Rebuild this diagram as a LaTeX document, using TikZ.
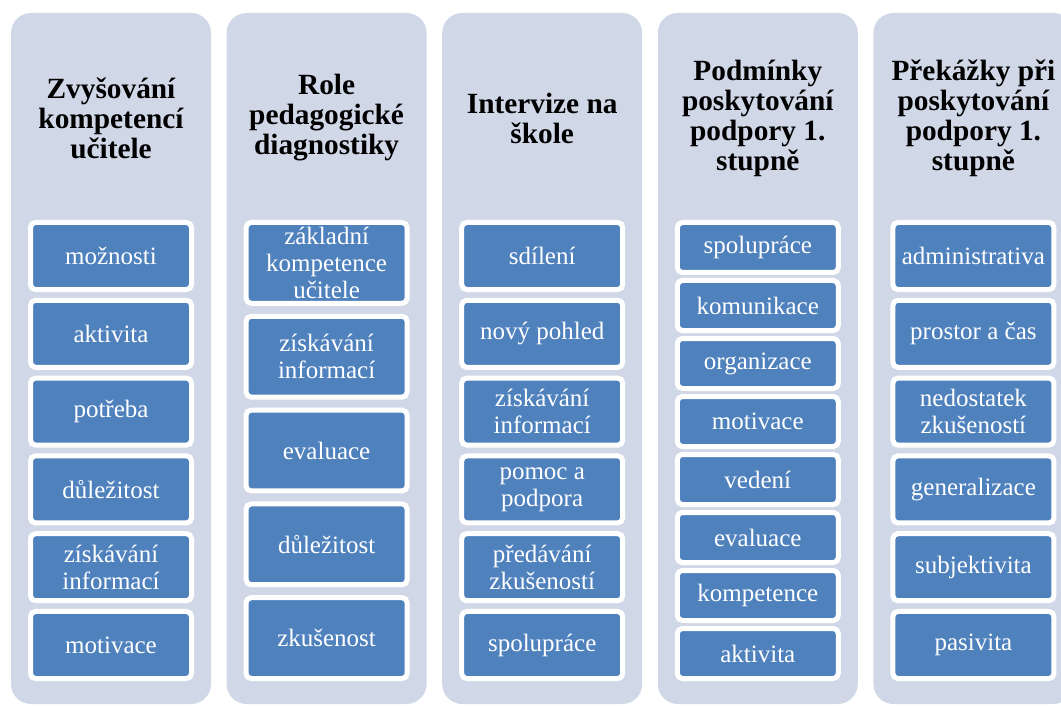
\documentclass[tikz,border=0pt]{standalone}
\usepackage{fontspec}
\setmainfont{Liberation Serif}
\definecolor{colbg}{HTML}{D0D8E8}
\definecolor{itemblue}{HTML}{4F81BD}

\begin{document}
\begin{tikzpicture}[x=0.75pt,y=-0.75pt]
            \tikzset{column/.style={rectangle, rounded corners=15pt, fill=colbg, inner sep=0pt,
                                    minimum width=150pt, minimum height=518.25pt},
                    head/.style={align=center, inner sep=0pt,
                                 font=\fontsize{22}{22.5}\selectfont\bfseries},
                    item/.style={rectangle, rounded corners=3.75pt, fill=itemblue, draw=white,
                                 line width=3.75pt, text=white, align=center, inner sep=0pt,
                                 minimum width=120.75pt, font=\fontsize{18.75}{20.25}\selectfont}}
            \useasboundingbox (0,0) rectangle (1061,706);
            \foreach \i/\x in {1/111,2/326.6,3/542.2,4/757.8,5/973.4}
                \node[column] (col\i) at (\x,358.5) {};
            % headers
            \node[head] (h1) at (111,118) {Zvyšování\\kompetencí\\učitele};
            \node[head] (h2) at (326.6,118) {Role\\pedagogické\\diagnostiky};
            \node[head] (h3) at (542.2,118) {Intervize na\\škole};
            \node[head] (h4) at (757.8,118) {Podmínky\\poskytování\\podpory 1.\\stupně};
            \node[head] (h5) at (973.4,118) {Překážky při\\poskytování\\podpory 1.\\stupně};
            % items
            \foreach \t [count=\i] in {možnosti, aktivita, potřeba, důležitost, {získávání\\informací}, motivace}
                \node[item, minimum height=50.3pt] (z\i) at (111,{256+77.8*(\i-1)}) {\t};
            \foreach \t [count=\i] in {{základní\\kompetence\\učitele}, {získávání\\informací}, evaluace, důležitost, zkušenost}
                \node[item, minimum height=60.6pt] (r\i) at (326.6,{262.9+93.8*(\i-1)}) {\t};
            \foreach \t [count=\i] in {sdílení, nový pohled, {získávání\\informací}, {pomoc a\\podpora}, {předávání\\zkušeností}, spolupráce}
                \node[item, minimum height=50.3pt] (s\i) at (542.2,{256+77.8*(\i-1)}) {\t};
            \foreach \t [count=\i] in {spolupráce, komunikace, organizace, motivace, vedení, evaluace, kompetence, aktivita}
                \node[item, minimum height=37.5pt] (p\i) at (757.8,{247.5+58*(\i-1)}) {\t};
            \foreach \t [count=\i] in {administrativa, prostor a čas, {nedostatek\\zkušeností}, generalizace, subjektivita, pasivita}
                \node[item, minimum height=50.3pt] (k\i) at (973.4,{256+77.8*(\i-1)}) {\t};
        \end{tikzpicture}
\end{document}
